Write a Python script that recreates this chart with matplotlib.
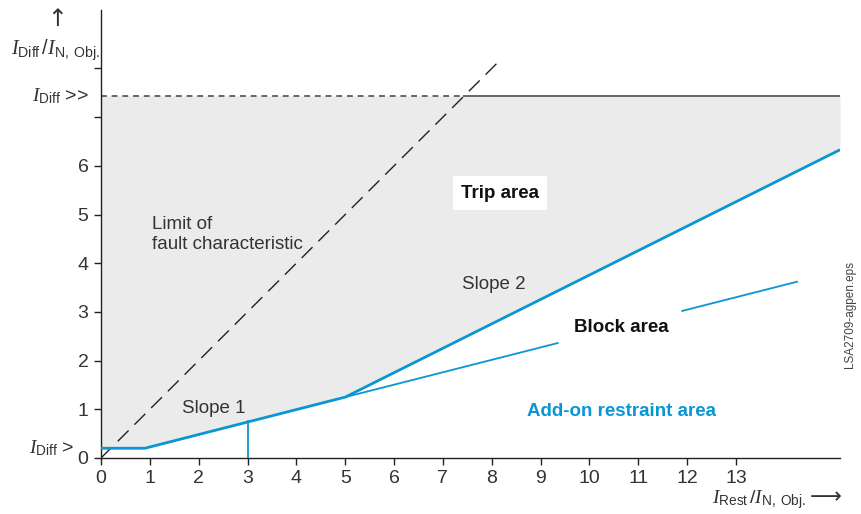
import matplotlib
matplotlib.use("Agg")
from matplotlib import pyplot as plt

plt.rcParams['font.family'] = ['Liberation Sans', 'DejaVu Sans']
plt.rcParams['mathtext.fontset'] = 'custom'
plt.rcParams['mathtext.rm'] = 'Liberation Sans'
plt.rcParams['mathtext.it'] = 'Liberation Serif:italic'

# tripping characteristic (I_Rest, I_Diff) in multiples of I_N,Obj
char_x = [0.0, 0.9, 5.0, 15.13]
char_y = [0.2, 0.2, 1.25, 6.33]
# continuation of slope 1 beyond the second knee point (broken by the label)
ext_x = [[5.0, 9.35], [11.9, 14.25]]
ext_y = [[1.25, 2.36], [3.02, 3.62]]
# limit of fault characteristic (I_Diff = I_Rest)
fault_x = [0.0, 8.1]
fault_y = [0.0, 8.1]
idiff_high = 7.44
idiff_low = 0.2
marker_x = 3.0

x_ticks = list(range(0, 14))
y_ticks = list(range(0, 9))
y_labels = ['0', '1', '2', '3', '4', '5', '6', '', '']

blue = '#0a96d2'
txt = '#333333'
fs = 13.5

fig = plt.figure(figsize=(8.61, 5.14), dpi=100)
ax = fig.add_axes([0.1173, 0.109, 0.8583, 0.8715])
ax.set_xlim(0, 15.13)
ax.set_ylim(0, 9.2)

# trip area shading between characteristic and I_Diff>>
ax.fill_between(char_x, char_y, idiff_high, color='#ebebeb', lw=0, zorder=0)

ax.plot(char_x, char_y, color=blue, lw=2.0, solid_capstyle='butt', zorder=3)
for xs, ys in zip(ext_x, ext_y):
    ax.plot(xs, ys, color=blue, lw=1.3, zorder=3)
ax.plot([marker_x, marker_x], [0, 0.25 * marker_x], color=blue, lw=1.3, zorder=3)

ax.plot(fault_x, fault_y, color='#222222', lw=1.0, dashes=(11, 6), zorder=2)
ax.plot([0, idiff_high], [idiff_high, idiff_high], color='#666666', lw=1.4,
        dashes=(3, 2.5), zorder=2)
ax.plot([idiff_high, 15.13], [idiff_high, idiff_high], color='#666666', lw=1.4, zorder=2)

for s in ['top', 'right']:
    ax.spines[s].set_visible(False)
for s in ['left', 'bottom']:
    ax.spines[s].set_color('#222222')
    ax.spines[s].set_linewidth(1.0)

ax.set_xticks(x_ticks)
ax.set_yticks(y_ticks)
ax.set_yticklabels(y_labels)
ax.tick_params(axis='both', direction='out', length=5, width=1.0, colors='#222222',
               labelsize=14, labelcolor=txt, pad=4)

ax.text(8.17, 5.44, 'Trip area', fontsize=fs, fontweight='bold', color='#111111',
        ha='center', va='center',
        bbox=dict(facecolor='white', edgecolor='none', pad=6))
ax.text(1.05, 4.97, 'Limit of\nfault characteristic', fontsize=fs, color=txt,
        ha='left', va='top', linespacing=1.25)
ax.text(8.05, 3.57, 'Slope 2', fontsize=fs, color=txt, ha='center', va='center')
ax.text(2.3, 1.02, 'Slope 1', fontsize=fs, color=txt, ha='center', va='center')
ax.text(10.65, 2.67, 'Block area', fontsize=fs, fontweight='bold', color='#111111',
        ha='center', va='center')
ax.text(10.65, 0.95, 'Add-on restraint area', fontsize=fs, fontweight='bold',
        color=blue, ha='center', va='center')

# axis labels
ax.text(-0.25, idiff_high, r'$I_{\mathrm{Diff}}$ >>', fontsize=14, color=txt,
        ha='right', va='center', clip_on=False)
ax.text(-0.55, idiff_low, r'$I_{\mathrm{Diff}}$ >', fontsize=14, color=txt,
        ha='right', va='center', clip_on=False)
ax.text(-0.02, 8.37, r'$I_{\mathrm{Diff}}\,/I_{\mathrm{N,\ Obj.}}$', fontsize=14.5,
        color=txt, ha='right', va='center', clip_on=False)
ax.text(-0.9, 9.02, '↑', fontsize=17, color=txt, family='DejaVu Sans',
        ha='center', va='center', clip_on=False)
fig.text(0.882, 0.028, r'$I_{\mathrm{Rest}}\,/I_{\mathrm{N,\ Obj.}}$', fontsize=14,
         color=txt, ha='center', va='center')
fig.text(0.978, 0.032, '⟶', fontsize=16, color=txt, family='DejaVu Sans',
         ha='right', va='center')
fig.text(0.987, 0.285, 'LSA2709-agpen.eps', fontsize=8.5, color='#444444',
         rotation=90, ha='center', va='bottom')

fig.savefig('out.png', dpi=100)
